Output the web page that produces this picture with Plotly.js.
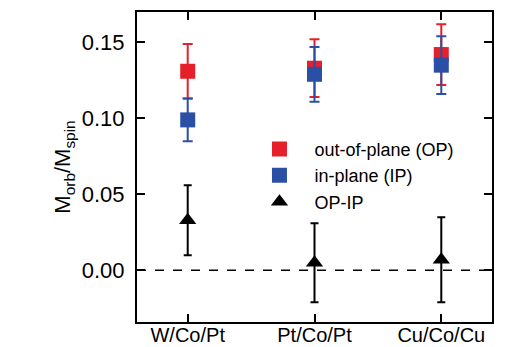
<!DOCTYPE html>
<html>
<head>
<meta charset="utf-8">
<script src="https://cdn.plot.ly/plotly-3.0.1.min.js"></script>
<style>html,body{margin:0;padding:0;background:#fff;}#chart{width:521px;height:347px;}</style>
</head>
<body>
<div id="chart"></div>
<script>
const categories = ['W/Co/Pt', 'Pt/Co/Pt', 'Cu/Co/Cu'];
const opValues = [0.131, 0.133, 0.142];
const opErrors = [0.018, 0.019, 0.020];
const ipValues = [0.099, 0.129, 0.135];
const ipErrors = [0.014, 0.018, 0.019];
const diffValues = [0.033, 0.005, 0.007];
const diffErrors = [0.023, 0.026, 0.028];
const seriesNames = ['out-of-plane (OP)', 'in-plane (IP)', 'OP-IP'];
const xPos = [0, 1, 2];

const FONT = 'Arial, "Liberation Sans", Helvetica, sans-serif';
const RED = '#e5202b';
const BLUE = '#2c4fa6';
const PAD = '\u00a0\u00a0\u00a0';

const traces = [
  {
    x: xPos, y: opValues, type: 'scatter', mode: 'markers', name: PAD + seriesNames[0],
    marker: {symbol: 'square', size: 15, color: RED},
    error_y: {type: 'data', array: opErrors, visible: true, color: RED, thickness: 2, width: 5}
  },
  {
    x: xPos, y: ipValues, type: 'scatter', mode: 'markers', name: PAD + seriesNames[1],
    marker: {symbol: 'square', size: 15, color: BLUE},
    error_y: {type: 'data', array: ipErrors, visible: true, color: BLUE, thickness: 2, width: 5}
  },
  {
    x: xPos, y: diffValues, type: 'scatter', mode: 'markers', name: PAD + seriesNames[2],
    marker: {symbol: 'triangle-up', size: 15, color: '#000'},
    error_y: {type: 'data', array: diffErrors, visible: true, color: '#000', thickness: 2, width: 4}
  }
];

const layout = {
  width: 521, height: 347,
  margin: {l: 137, r: 29, t: 12, b: 25},
  paper_bgcolor: '#fff', plot_bgcolor: '#fff',
  font: {family: FONT, color: '#000', size: 20},
  showlegend: true,
  legend: {
    x: 0.345, y: 0.617, xanchor: 'left', yanchor: 'top',
    bgcolor: 'rgba(0,0,0,0)', borderwidth: 0,
    font: {family: FONT, size: 18, color: '#000'},
    tracegroupgap: 0
  },
  xaxis: {
    range: [-0.4, 2.4],
    tickmode: 'array', tickvals: xPos, ticktext: categories,
    ticks: 'inside', ticklen: 8, tickwidth: 2, tickcolor: '#000',
    showline: true, linecolor: '#000', linewidth: 2, mirror: 'ticks',
    showgrid: false, zeroline: false,
    ticklabelstandoff: -6,
    tickfont: {family: FONT, size: 20, color: '#000'}
  },
  yaxis: {
    range: [-0.034, 0.170],
    tickmode: 'array', tickvals: [0, 0.05, 0.10, 0.15], ticktext: ['0.00', '0.05', '0.10', '0.15'],
    ticks: 'inside', ticklen: 8, tickwidth: 2, tickcolor: '#000',
    showline: true, linecolor: '#000', linewidth: 2, mirror: 'ticks',
    showgrid: false, zeroline: false,
    ticklabelstandoff: 6,
    tickfont: {family: FONT, size: 22, color: '#000'},
    title: {text: 'M<sub>orb</sub>/M<sub>spin</sub>', font: {family: FONT, size: 22, color: '#000'}, standoff: 5}
  },
  shapes: [
    {type: 'line', xref: 'paper', yref: 'y', x0: 0, x1: 1, y0: 0, y1: 0,
     line: {color: '#000', width: 1.5, dash: 'dash'}, layer: 'below'}
  ]
};

Plotly.newPlot('chart', traces, layout, {displayModeBar: false, staticPlot: true});
</script>
</body>
</html>
